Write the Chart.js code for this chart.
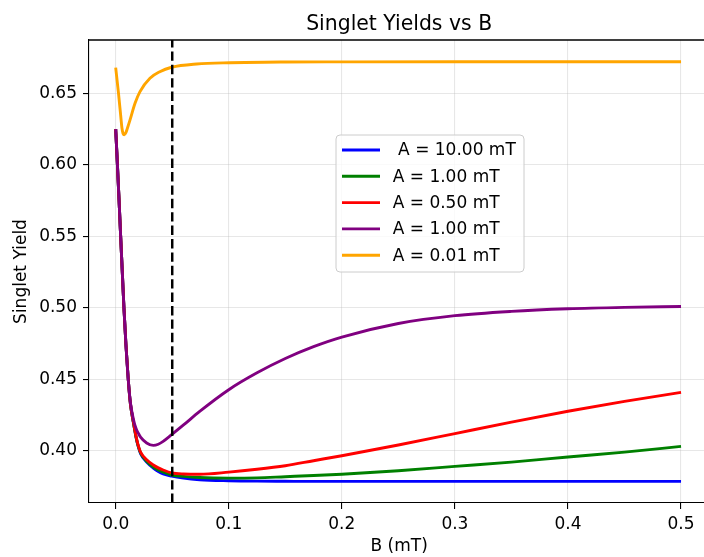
<!DOCTYPE html>
<html><head><meta charset="utf-8">
<script src="https://cdn.jsdelivr.net/npm/chart.js@4/dist/chart.umd.min.js"></script>
<style>html,body{margin:0;padding:0;overflow:hidden;background:#fff}#wrap{position:absolute;left:0;top:0;width:720px;height:557px}</style>
</head><body><div id="wrap"><canvas id="c" width="720" height="557"></canvas></div>
<script>
// ---- data ----
const xMain = [0, 0.001, 0.002, 0.003, 0.0044, 0.006, 0.0073, 0.009, 0.0111, 0.013,
  0.0156, 0.018, 0.020, 0.022, 0.0274, 0.0333, 0.0377, 0.042, 0.0495, 0.06, 0.0743,
  0.1, 0.125, 0.15, 0.175, 0.2, 0.25, 0.3, 0.35, 0.4, 0.45, 0.5];
const blueVals = [0.625, 0.609, 0.592, 0.575, 0.550, 0.5225, 0.500, 0.475, 0.450, 0.433,
  0.420, 0.4095, 0.4028, 0.398, 0.392, 0.3878, 0.3855, 0.3838, 0.3822, 0.3808, 0.3797,
  0.379, 0.3787, 0.3786, 0.3785, 0.3785, 0.3785, 0.3785, 0.3785, 0.3785, 0.3785, 0.3785];
const greenVals = [0.625, 0.609, 0.592, 0.575, 0.550, 0.5225, 0.500, 0.475, 0.450, 0.433,
  0.420, 0.4095, 0.403, 0.3985, 0.3925, 0.3885, 0.3865, 0.385, 0.383, 0.382, 0.3812,
  0.3808, 0.381, 0.3818, 0.3826, 0.3835, 0.386, 0.389, 0.392, 0.3956, 0.399, 0.403];
const redVals = [0.625, 0.609, 0.592, 0.575, 0.550, 0.5225, 0.500, 0.475, 0.450, 0.433,
  0.4205, 0.410, 0.4035, 0.399, 0.3937, 0.3900, 0.388, 0.3865, 0.3845, 0.3837, 0.3835,
  0.385, 0.387, 0.3895, 0.393, 0.3965, 0.404, 0.4120, 0.4200, 0.4276, 0.4345, 0.4408];
const purpleVals = [0.625, 0.609, 0.592, 0.575, 0.550, 0.5225, 0.500, 0.475, 0.450, 0.434,
  0.4222, 0.4155, 0.4122, 0.4095, 0.4054, 0.4037, 0.4045, 0.4065, 0.4112, 0.418, 0.4275,
  0.4427, 0.4545, 0.4645, 0.4728, 0.4795, 0.4890, 0.4945, 0.4975, 0.4993, 0.5003, 0.5009];
const xOrange = [0, 0.0025, 0.0045, 0.0055, 0.0065, 0.0076, 0.009, 0.0105, 0.0127, 0.0171,
  0.0215, 0.0303, 0.039, 0.0495, 0.0716, 0.101, 0.15, 0.2, 0.3, 0.4, 0.5];
const orangeVals = [0.668, 0.650, 0.634, 0.626, 0.622, 0.621, 0.6225, 0.626, 0.6315, 0.6431,
  0.6513, 0.6606, 0.6652, 0.6683, 0.6706, 0.6715, 0.672, 0.6721, 0.6722, 0.6722, 0.6722];
const legendLabels = [' A = 10.00 mT', 'A = 1.00 mT', 'A = 0.50 mT', 'A = 1.00 mT', 'A = 0.01 mT'];
const seriesColors = ['#0000ff', '#008000', '#ff0000', '#800080', '#ffa500'];
const xTicks = [0.0, 0.1, 0.2, 0.3, 0.4, 0.5];
const yTicks = [0.40, 0.45, 0.50, 0.55, 0.60, 0.65];
const markerX = 0.05;
const X_MIN = -0.0236, X_MAX = 0.525, Y_MIN = 0.3634, Y_MAX = 0.6874;

// ---- chart ----
const FONT = "'DejaVu Sans', sans-serif";
Chart.defaults.font.family = FONT;
Chart.defaults.color = '#000';
const LW = 2.9;
const toXY = (xs, ys) => xs.map((x, i) => ({x: x, y: ys[i]}));
const mainSeries = [blueVals, greenVals, redVals, purpleVals];
const datasets = mainSeries.map((vals, i) => ({
  label: legendLabels[i], data: toXY(xMain, vals), borderColor: seriesColors[i],
  backgroundColor: seriesColors[i], borderWidth: LW, pointRadius: 0,
  cubicInterpolationMode: 'monotone', fill: false, order: 10 - i
}));
datasets.push({label: legendLabels[4], data: toXY(xOrange, orangeVals), borderColor: seriesColors[4],
  backgroundColor: seriesColors[4], borderWidth: LW, pointRadius: 0,
  cubicInterpolationMode: 'monotone', fill: false, order: 5});
datasets.push({label: 'marker', data: [{x: markerX, y: Y_MIN}, {x: markerX, y: Y_MAX}],
  borderColor: '#000', borderWidth: 2.5, borderDash: [9.4, 4], pointRadius: 0, tension: 0,
  fill: false, order: 0});

const GRID = 'rgba(176,176,176,0.3)';
const framePlugin = {
  id: 'frame',
  afterDraw(chart) {
    const ctx = chart.ctx, a = chart.chartArea;
    ctx.save();
    ctx.strokeStyle = '#000'; ctx.lineWidth = 1.3;
    ctx.beginPath(); ctx.moveTo(a.left, a.top); ctx.lineTo(a.right, a.top); ctx.lineTo(a.right, a.bottom); ctx.stroke();
    // legend box
    const L = 336, T = 135, R = 524, B = 272, r = 4;
    ctx.beginPath();
    ctx.moveTo(L + r, T); ctx.lineTo(R - r, T); ctx.quadraticCurveTo(R, T, R, T + r);
    ctx.lineTo(R, B - r); ctx.quadraticCurveTo(R, B, R - r, B);
    ctx.lineTo(L + r, B); ctx.quadraticCurveTo(L, B, L, B - r);
    ctx.lineTo(L, T + r); ctx.quadraticCurveTo(L, T, L + r, T); ctx.closePath();
    ctx.fillStyle = 'rgba(255,255,255,0.8)'; ctx.fill();
    ctx.strokeStyle = '#cccccc'; ctx.lineWidth = 1; ctx.stroke();
    ctx.font = '17px ' + FONT; ctx.textBaseline = 'middle'; ctx.textAlign = 'left';
    legendLabels.forEach((lab, i) => {
      const y = 150 + i * 26.3;
      ctx.strokeStyle = seriesColors[i]; ctx.lineWidth = LW;
      ctx.beginPath(); ctx.moveTo(342, y); ctx.lineTo(380, y); ctx.stroke();
      ctx.fillStyle = '#000'; ctx.fillText(lab, 392.7, y + 1);
    });
    ctx.restore();
  }
};

new Chart(document.getElementById('c'), {
  type: 'line',
  data: {datasets: datasets},
  options: {
    responsive: false, animation: false, devicePixelRatio: 1,
    layout: {padding: {left: 0, right: 10.7, top: 0, bottom: 0}},
    plugins: {
      legend: {display: false}, tooltip: {enabled: false},
      title: {display: true, text: 'Singlet Yields vs B', fullSize: false,
        font: {size: 20.4, weight: 'normal'}, padding: {top: 12, bottom: 3.5}, color: '#000'}
    },
    scales: {
      x: {type: 'linear', min: X_MIN, max: X_MAX,
        afterBuildTicks: s => { s.ticks = xTicks.map(v => ({value: v})); },
        afterFit: s => { s.height = 54; },
        ticks: {callback: v => Number(v).toFixed(1), font: {size: 17}, padding: 5, maxRotation: 0, autoSkip: false, color: '#000'},
        grid: {color: GRID, lineWidth: 1.1, tickColor: '#000', tickLength: 6, tickWidth: 1.1},
        border: {color: '#000', width: 1.1},
        title: {display: true, text: 'B (mT)', font: {size: 17}, padding: {top: 0, bottom: 0}, color: '#000'}
      },
      y: {type: 'linear', min: Y_MIN, max: Y_MAX,
        afterBuildTicks: s => { s.ticks = yTicks.map(v => ({value: v})); },
        afterFit: s => { s.width = 89; },
        ticks: {callback: v => Number(v).toFixed(2), font: {size: 17}, padding: 6, autoSkip: false, color: '#000'},
        grid: {color: GRID, lineWidth: 1.1, tickColor: '#000', tickLength: 6, tickWidth: 1.1},
        border: {color: '#000', width: 1.1},
        title: {display: true, text: 'Singlet Yield', font: {size: 17}, padding: {top: 11, bottom: 0}, color: '#000'}
      }
    }
  },
  plugins: [framePlugin]
});
</script></body></html>
